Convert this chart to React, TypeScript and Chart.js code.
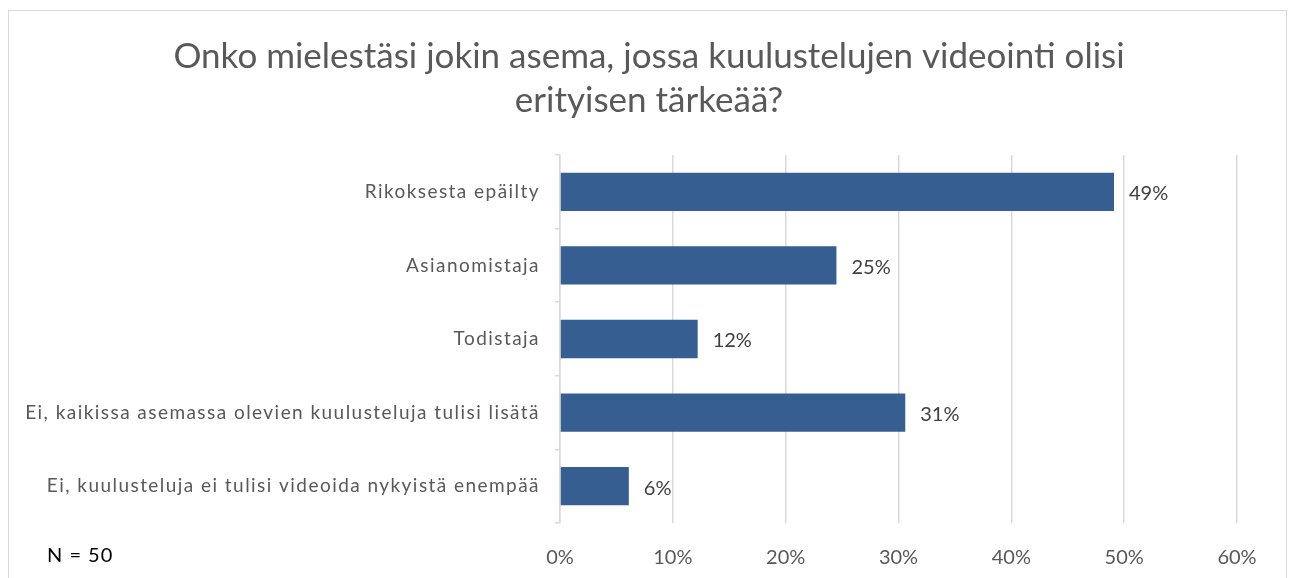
import React, { useEffect, useRef } from "react";
import { Chart, registerables } from "chart.js";

Chart.register(...registerables);

const TITLE_LINES = [
  "Onko mielestäsi jokin asema, jossa kuulustelujen videointi olisi",
  "erityisen tärkeää?",
];
const CATEGORIES = [
  "Rikoksesta epäilty",
  "Asianomistaja",
  "Todistaja",
  "Ei, kaikissa asemassa olevien kuulusteluja tulisi lisätä",
  "Ei, kuulusteluja ei tulisi videoida nykyistä enempää",
];
const VALUES = [49.1, 24.5, 12.2, 30.6, 6.1];
const VALUE_LABELS = ["49%", "25%", "12%", "31%", "6%"];
const X_MIN = 0;
const X_MAX = 60;
const X_STEP = 10;
const NOTE = "N = 50";

const FONT = "Lato";
const CANVAS_W = 1277;
const CANVAS_H = 575;

export default function App() {
  const ref = useRef<HTMLCanvasElement | null>(null);

  useEffect(() => {
    if (!ref.current) return;
    const labelPlugin = {
      id: "valueLabels",
      afterDatasetsDraw(chart: any) {
        const ctx = chart.ctx;
        const meta = chart.getDatasetMeta(0);
        ctx.save();
        ctx.font = `20px ${FONT}`;
        ctx.fillStyle = "#404040";
        ctx.textAlign = "left";
        ctx.textBaseline = "middle";
        meta.data.forEach((bar: any, i: number) => {
          ctx.fillText(VALUE_LABELS[i], bar.x + 15, bar.y + 2);
        });
        ctx.fillStyle = "#000000";
        (ctx as any).letterSpacing = "1px";
        ctx.fillText(NOTE, 38, 545);
        ctx.restore();
        // category labels (y tick labels drawn after datasets) get wider spacing
        (ctx as any).letterSpacing = "1.45px";
      },
      afterDraw(chart: any) {
        const ctx = chart.ctx;
        (ctx as any).letterSpacing = "0px";
        ctx.save();
        ctx.font = `35px ${FONT}`;
        ctx.fillStyle = "#595959";
        ctx.textAlign = "center";
        ctx.textBaseline = "middle";
        TITLE_LINES.forEach((line, i) => {
          ctx.fillText(line, 640, 46 + i * 43.75);
        });
        ctx.restore();
      },
    };

    const chart = new Chart(ref.current, {
      type: "bar",
      data: {
        labels: CATEGORIES,
        datasets: [
          {
            data: VALUES,
            backgroundColor: "#365E91",
            borderWidth: 0,
            barPercentage: 0.52,
            categoryPercentage: 1,
          },
        ],
      },
      options: {
        indexAxis: "y",
        responsive: false,
        animation: false,
        layout: { padding: { left: 0, right: 49, top: 144, bottom: 13 } },
        plugins: {
          legend: { display: false },
          tooltip: { enabled: false },
          title: { display: false },
        },
        scales: {
          x: {
            min: X_MIN,
            max: X_MAX,
            position: "bottom",
            afterFit: (s: any) => {
              s.height = 50;
            },
            ticks: {
              stepSize: X_STEP,
              padding: 23,
              color: "#595959",
              font: { family: FONT, size: 20 },
              callback: (v: any) => `${v}%`,
            },
            grid: {
              color: "#d9d9d9",
              lineWidth: 1.5,
              drawTicks: false,
            },
            border: { display: false },
          },
          y: {
            afterFit: (s: any) => {
              s.width = 551;
            },
            ticks: {
              z: 1,
              padding: 15,
              color: "#595959",
              font: { family: FONT, size: 19 },
            },
            grid: {
              offset: true,
              drawOnChartArea: false,
              drawTicks: true,
              tickLength: 5,
              color: "#d9d9d9",
              lineWidth: 1.5,
            },
            border: { display: true, color: "#d9d9d9", width: 1.5 },
          },
        },
      },
      plugins: [labelPlugin],
    } as any);
    return () => chart.destroy();
  }, []);

  return (
    <div
      style={{
        position: "fixed",
        left: 8,
        top: 10,
        width: CANVAS_W,
        height: CANVAS_H,
        border: "1px solid #d9d9d9",
        background: "#ffffff",
      }}
    >
      <canvas ref={ref} width={CANVAS_W} height={CANVAS_H} style={{ display: "block" }} />
    </div>
  );
}
